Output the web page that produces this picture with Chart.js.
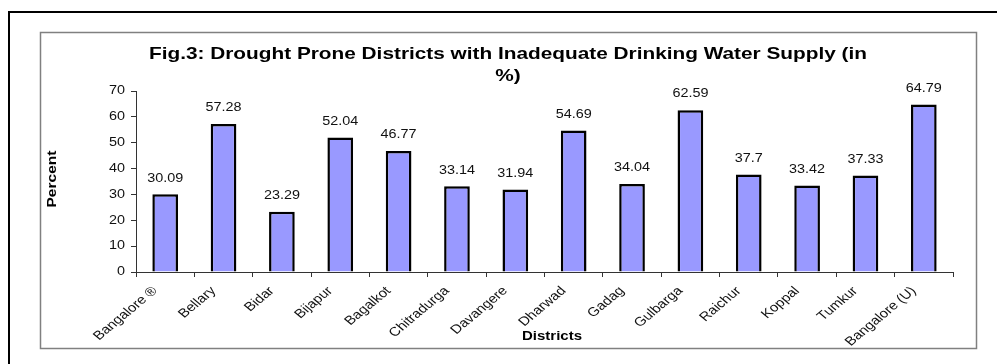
<!DOCTYPE html>
<html>
<head>
<meta charset="utf-8">
<script src="https://cdn.jsdelivr.net/npm/chart.js@4/dist/chart.umd.min.js"></script>
<style>
  html, body { margin: 0; padding: 0; background: #fff; }
  canvas { display: block; }
</style>
</head>
<body>
<canvas id="chart" width="997" height="364"></canvas>
<script>
// Districts and share of habitations with inadequate drinking water (%)
const districts = ['Bangalore ®', 'Bellary', 'Bidar', 'Bijapur', 'Bagalkot', 'Chitradurga', 'Davangere',
  'Dharwad', 'Gadag', 'Gulbarga', 'Raichur', 'Koppal', 'Tumkur', 'Bangalore (U)'];
const percent = [30.09, 57.28, 23.29, 52.04, 46.77, 33.14, 31.94, 54.69, 34.04, 62.59, 37.7, 33.42, 37.33, 64.79];
const yTicks = [0, 10, 20, 30, 40, 50, 60, 70];

const titleLines = ['Fig.3: Drought Prone Districts with Inadequate Drinking Water Supply (in', '%)'];
const FONT = 'Arial, "Liberation Sans", sans-serif';
const SX = 1.2; // text in this figure is a little wide

// plain text with a horizontal stretch
function wideText(ctx, text, x, y, font, align, sx) {
  ctx.save();
  ctx.translate(x, y);
  ctx.scale(sx, 1);
  ctx.font = font;
  ctx.textAlign = align;
  ctx.textBaseline = 'middle';
  ctx.fillText(text, 0, 0);
  ctx.restore();
}

// frame + title
const frame = {
  id: 'frame',
  beforeDraw(chart) {
    const ctx = chart.ctx;
    ctx.save();
    ctx.strokeStyle = '#000';
    ctx.lineWidth = 2;
    ctx.beginPath();
    ctx.moveTo(9, 380);
    ctx.lineTo(9, 12);
    ctx.lineTo(1000, 12);
    ctx.stroke();

    ctx.strokeStyle = '#808080';
    ctx.lineWidth = 1.5;
    ctx.strokeRect(40.5, 32.5, 936, 316);

    ctx.fillStyle = '#000';
    const tf = 'bold 17px ' + FONT;
    ctx.font = tf;
    const tsx = 718 / ctx.measureText(titleLines[0]).width;
    wideText(ctx, titleLines[0], 508, 54, tf, 'center', tsx);
    wideText(ctx, titleLines[1], 508, 76, tf, 'center', tsx);
    ctx.restore();
  }
};

// tick labels, axis titles and bar values
const labels = {
  id: 'labels',
  afterDraw(chart) {
    const ctx = chart.ctx;
    const xs = chart.scales.x;
    const ys = chart.scales.y;
    ctx.save();
    ctx.fillStyle = '#111';

    yTicks.forEach(v => {
      wideText(ctx, String(v), 125, ys.getPixelForValue(v), '12px ' + FONT, 'right', SX);
    });

    districts.forEach((name, i) => {
      const x = xs.getPixelForTick(i) - 10;
      const y = xs.top + 17;
      ctx.save();
      ctx.translate(x, y);
      ctx.scale(SX, 1);
      ctx.rotate(-Math.PI / 4);
      ctx.font = '12.5px ' + FONT;
      ctx.textAlign = 'right';
      ctx.textBaseline = 'middle';
      ctx.fillText(name, 0, 0);
      ctx.restore();
    });

    const meta = chart.getDatasetMeta(0);
    meta.data.forEach((bar, i) => {
      wideText(ctx, String(percent[i]), bar.x, bar.y - 16, '12px ' + FONT, 'center', SX);
    });

    ctx.fillStyle = '#000';
    wideText(ctx, 'Districts', 552, 337, 'bold 12.5px ' + FONT, 'center', SX);

    ctx.save();
    ctx.translate(53, 179);
    ctx.rotate(-Math.PI / 2);
    ctx.font = 'bold 12px ' + FONT;
    const psx = 57 / ctx.measureText('Percent').width;
    ctx.scale(psx, 1);
    ctx.textAlign = 'center';
    ctx.textBaseline = 'middle';
    ctx.fillText('Percent', 0, 0);
    ctx.restore();

    ctx.restore();
  }
};

new Chart(document.getElementById('chart'), {
  type: 'bar',
  data: {
    labels: districts,
    datasets: [{
      data: percent,
      backgroundColor: '#9999ff',
      borderColor: '#000',
      borderWidth: 2.5,
      barPercentage: 0.44,
      categoryPercentage: 1,
    }],
  },
  options: {
    responsive: false,
    animation: false,
    layout: { padding: { left: 40, right: 44, top: 91, bottom: 16 } },
    plugins: {
      legend: { display: false },
      tooltip: { enabled: false },
    },
    scales: {
      x: {
        grid: { drawOnChartArea: false, drawTicks: true, tickLength: 5, color: '#333' },
        border: { color: '#333', width: 1 },
        ticks: { display: false, autoSkip: false },
        afterFit: s => { s.height = 76; },
      },
      y: {
        min: 0,
        max: 70,
        afterBuildTicks: s => { s.ticks = yTicks.map(v => ({ value: v })); },
        grid: { drawOnChartArea: false, drawTicks: true, tickLength: 5, color: '#333' },
        border: { color: '#333', width: 1 },
        ticks: { display: false },
        afterFit: s => { s.width = 96; },
      },
    },
  },
  plugins: [frame, labels],
});
</script>
</body>
</html>
